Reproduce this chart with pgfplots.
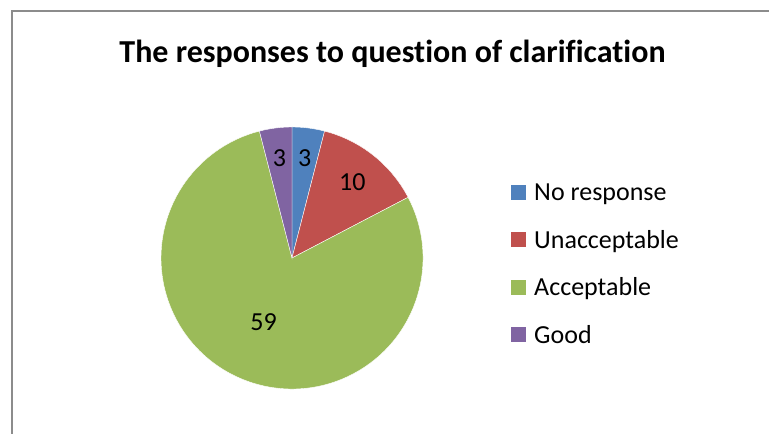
\documentclass[border=0pt]{standalone}
\usepackage{pgfplots}
\usepackage{pgfplotstable}
\pgfplotsset{compat=1.18}
\usepackage{fontspec}
\setmainfont{Carlito}[Ligatures=NoCommon]
\definecolor{c0}{HTML}{4F81BD}
\definecolor{c1}{HTML}{C0504D}
\definecolor{c2}{HTML}{9BBB59}
\definecolor{c3}{HTML}{8064A2}
\definecolor{frame}{HTML}{8C8C8C}

\pgfplotstableread{
value lr
3  101
10 97
59 70
3  101
}\piedata

\def\total{0}
\pgfplotsforeachungrouped \i in {0,1,2,3}{%
  \pgfplotstablegetelem{\i}{value}\of\piedata
  \pgfmathsetmacro\total{\total+\pgfplotsretval}%
}
\def\cum{0}
\pgfplotsforeachungrouped \i in {0,1,2,3}{%
  \pgfplotstablegetelem{\i}{value}\of\piedata
  \let\vval\pgfplotsretval
  \pgfplotstablegetelem{\i}{lr}\of\piedata
  \let\rval\pgfplotsretval
  \pgfmathsetmacro\sa{90-360/\total*\cum}%
  \pgfmathsetmacro\cum{\cum+\vval}%
  \pgfmathsetmacro\ea{90-360/\total*\cum}%
  \pgfmathsetmacro\ma{(\sa+\ea)/2}%
  \pgfmathsetmacro\lx{292+\rval*cos(\ma)}%
  \pgfmathsetmacro\ly{176+\rval*sin(\ma)}%
  \pgfmathtruncatemacro\vi{\vval}%
  \expandafter\xdef\csname sa\i\endcsname{\sa}%
  \expandafter\xdef\csname ea\i\endcsname{\ea}%
  \expandafter\xdef\csname lx\i\endcsname{\lx}%
  \expandafter\xdef\csname ly\i\endcsname{\ly}%
  \expandafter\xdef\csname vv\i\endcsname{\vi}%
}

\begin{document}
\begin{tikzpicture}
\path[use as bounding box] (0,0) rectangle (769pt,434pt);
\clip (0,0) rectangle (769pt,434pt);
\begin{axis}[
  at={(0,0)}, anchor=south west,
  width=769pt, height=434pt, scale only axis,
  xmin=0, xmax=769, ymin=0, ymax=434,
  enlargelimits=false, hide axis, clip=false,
  legend style={at={(axis cs:508,255)}, anchor=north west, draw=none, fill=none,
    font=\fontsize{26}{30}\selectfont, row sep=22pt,
    nodes={inner sep=3pt}},
  legend cell align=left,
  legend image code/.code={\fill (0pt,-7pt) rectangle (15pt,8pt);},
]
\pgfplotsinvokeforeach{0,1,2,3}{
  \fill[c#1, draw=white, line width=0.4pt] (axis cs:292,176) -- ++(\csname sa#1\endcsname:131pt)
    arc[start angle=\csname sa#1\endcsname, end angle=\csname ea#1\endcsname, radius=131pt] -- cycle;
}
\pgfplotsinvokeforeach{0,1,2,3}{
  \node[font=\fontsize{26}{30}\selectfont, inner sep=0pt] at (axis cs:\csname lx#1\endcsname,\csname ly#1\endcsname) {\csname vv#1\endcsname};
}
\addlegendimage{fill=c0, draw=none}\addlegendentry{\hspace{5pt}No response}
\addlegendimage{fill=c1, draw=none}\addlegendentry{\hspace{5pt}Unacceptable}
\addlegendimage{fill=c2, draw=none}\addlegendentry{\hspace{5pt}Acceptable}
\addlegendimage{fill=c3, draw=none}\addlegendentry{\hspace{5pt}Good}
\node[anchor=base, font=\fontsize{32}{38}\selectfont\bfseries] at (axis cs:392.5,371) {The responses to question of clarification};
\draw[frame, line width=1.3pt] (axis cs:12,-10) -- (axis cs:12,423) -- (axis cs:800,423);
\end{axis}
\end{tikzpicture}
\end{document}
